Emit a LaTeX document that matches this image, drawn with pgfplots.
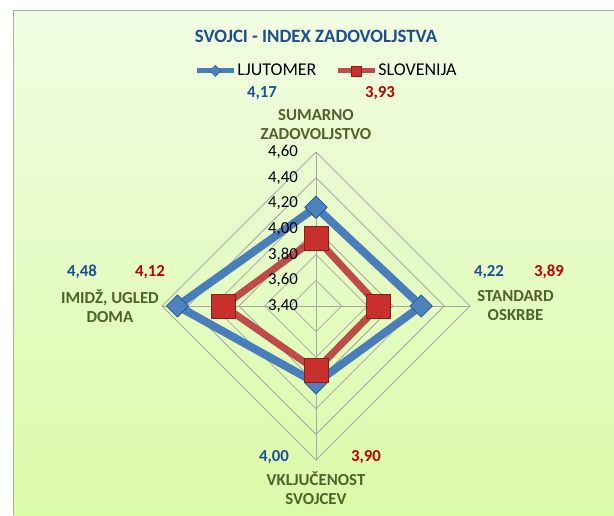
\documentclass[border=0pt]{standalone}
\usepackage{pgfplots}
\pgfplotsset{compat=1.18}
\usepackage{pgfplotstable}
\usepackage{fontspec}
\setmainfont{Carlito}
\definecolor{bgtop}{HTML}{F1FDE3}
\definecolor{bgbot}{HTML}{DAFBA8}
\definecolor{ljline}{HTML}{4A7EBB}
\definecolor{ljmark}{HTML}{4F81BD}
\definecolor{ljdraw}{HTML}{2C5A93}
\definecolor{slline}{HTML}{BE4B48}
\definecolor{slmark}{HTML}{C8302D}
\definecolor{sldraw}{HTML}{8C1C1C}
\definecolor{titleblue}{HTML}{1F4E8C}
\definecolor{catgreen}{HTML}{4F6228}
\definecolor{valblue}{HTML}{1F4E9A}
\definecolor{valred}{HTML}{C00000}
\definecolor{gridgray}{HTML}{A6A6A6}
\definecolor{framec}{HTML}{A3B98A}

\pgfplotstableread{
ang lj sl
90 4.17 3.93
0 4.22 3.89
270 4.00 3.90
180 4.48 4.12
90 4.17 3.93
}\radardata

\begin{document}
\begin{tikzpicture}
\useasboundingbox (0pt,0pt) rectangle (614pt,515pt);
\fill[white] (0pt,0pt) rectangle (614pt,515pt);
\shade[top color=bgtop,bottom color=bgbot] (13pt,0pt) rectangle (614pt,504pt);
\draw[framec,line width=1.5pt] (13.5pt,0pt) -- (13.5pt,504.5pt) -- (614pt,504.5pt);
\node[font=\bfseries\fontsize{18.8}{21}\selectfont,text=titleblue] at (316pt,479pt) {SVOJCI - INDEX ZADOVOLJSTVA};
\begin{axis}[
  at={(316pt,209pt)}, anchor=origin,
  x=128.3pt, y=128.3pt,
  xmin=-1.25, xmax=1.25, ymin=-1.25, ymax=1.25,
  hide axis, clip=false,
  legend image code/.code={\draw[mark repeat=2,mark phase=2,#1] plot coordinates {(0pt,0pt) (18.5pt,0pt) (37pt,0pt)};},
  legend style={at={(0.531,1.233)}, anchor=center, draw=none, fill=none,
    legend columns=2, font=\fontsize{18}{20}\selectfont,
    nodes={inner sep=1pt},
    /tikz/every even column/.append style={column sep=18pt}},
]
% grid rings
\addplot[gridgray, line width=0.8pt, forget plot] coordinates {(0,0.2)(0.2,0)(0,-0.2)(-0.2,0)(0,0.2)};
\addplot[gridgray, line width=0.8pt, forget plot] coordinates {(0,0.4)(0.4,0)(0,-0.4)(-0.4,0)(0,0.4)};
\addplot[gridgray, line width=0.8pt, forget plot] coordinates {(0,0.6)(0.6,0)(0,-0.6)(-0.6,0)(0,0.6)};
\addplot[gridgray, line width=0.8pt, forget plot] coordinates {(0,0.8)(0.8,0)(0,-0.8)(-0.8,0)(0,0.8)};
\addplot[gridgray, line width=0.8pt, forget plot] coordinates {(0,1.0)(1.0,0)(0,-1.0)(-1.0,0)(0,1.0)};
\addplot[gridgray, line width=0.8pt, forget plot] coordinates {(0,1.2)(1.2,0)(0,-1.2)(-1.2,0)(0,1.2)};
\addplot[gridgray, line width=0.8pt, forget plot] coordinates {(0,-1.2)(0,1.2)};
\addplot[gridgray, line width=0.8pt, forget plot] coordinates {(-1.2,0)(1.2,0)};
% series
\addplot[ljline, line width=8pt, line join=round, mark=square*, mark size=7.8pt,
  mark options={rotate=45, fill=ljmark, draw=ljdraw, line width=0.8pt}, forget plot]
  table[x expr={(\thisrow{lj}-3.4)*cos(\thisrow{ang})}, y expr={(\thisrow{lj}-3.4)*sin(\thisrow{ang})}] {\radardata};
\addplot[slline, line width=7pt, line join=round, mark=square*, mark size=12pt,
  mark options={fill=slmark, draw=sldraw, line width=0.8pt}, forget plot]
  table[x expr={(\thisrow{sl}-3.4)*cos(\thisrow{ang})}, y expr={(\thisrow{sl}-3.4)*sin(\thisrow{ang})}] {\radardata};
\addlegendimage{ljline, line width=5pt, mark=square*, mark size=3.9pt, mark options={rotate=45, fill=ljmark, draw=ljdraw, line width=0.5pt}}
\addlegendentry{LJUTOMER}
\addlegendimage{slline, line width=5pt, mark=square*, mark size=5pt, mark options={fill=slmark, draw=sldraw, line width=0.5pt}}
\addlegendentry{SLOVENIJA}
% tick labels
\foreach \r/\t in {0/{3,40},0.2/{3,60},0.4/{3,80},0.6/{4,00},0.8/{4,20},1.0/{4,40},1.2/{4,60}}{
  \edef\tmp{\noexpand\node[anchor=east, inner sep=0pt, font=\noexpand\fontsize{16.8}{19}\noexpand\selectfont] at (axis cs:-0.14,\r) {\t};}
  \tmp
}
% category labels
\node[align=center, font=\bfseries\fontsize{16.8}{19}\selectfont, text=catgreen] at (axis cs:0,1.418) {SUMARNO\\ZADOVOLJSTVO};
\node[align=center, font=\bfseries\fontsize{16.8}{19}\selectfont, text=catgreen] at (axis cs:1.555,0) {STANDARD\\OSKRBE};
\node[align=center, font=\bfseries\fontsize{16.8}{19}\selectfont, text=catgreen] at (axis cs:0,-1.419) {VKLJUČENOST\\SVOJCEV};
\node[align=center, font=\bfseries\fontsize{16.8}{19}\selectfont, text=catgreen] at (axis cs:-1.606,0) {IMIDŽ, UGLED\\DOMA};
% data labels
\node[font=\bfseries\fontsize{16.8}{19}\selectfont, text=valblue] at (axis cs:-0.421,1.660) {4,17};
\node[font=\bfseries\fontsize{16.8}{19}\selectfont, text=valred] at (axis cs:0.499,1.660) {3,93};
\node[font=\bfseries\fontsize{16.8}{19}\selectfont, text=valblue] at (axis cs:1.348,0.265) {4,22};
\node[font=\bfseries\fontsize{16.8}{19}\selectfont, text=valred] at (axis cs:1.816,0.265) {3,89};
\node[font=\bfseries\fontsize{16.8}{19}\selectfont, text=valblue] at (axis cs:-0.327,-1.177) {4,00};
\node[font=\bfseries\fontsize{16.8}{19}\selectfont, text=valred] at (axis cs:0.390,-1.177) {3,90};
\node[font=\bfseries\fontsize{16.8}{19}\selectfont, text=valblue] at (axis cs:-1.824,0.265) {4,48};
\node[font=\bfseries\fontsize{16.8}{19}\selectfont, text=valred] at (axis cs:-1.294,0.265) {4,12};
\end{axis}
\end{tikzpicture}
\end{document}
